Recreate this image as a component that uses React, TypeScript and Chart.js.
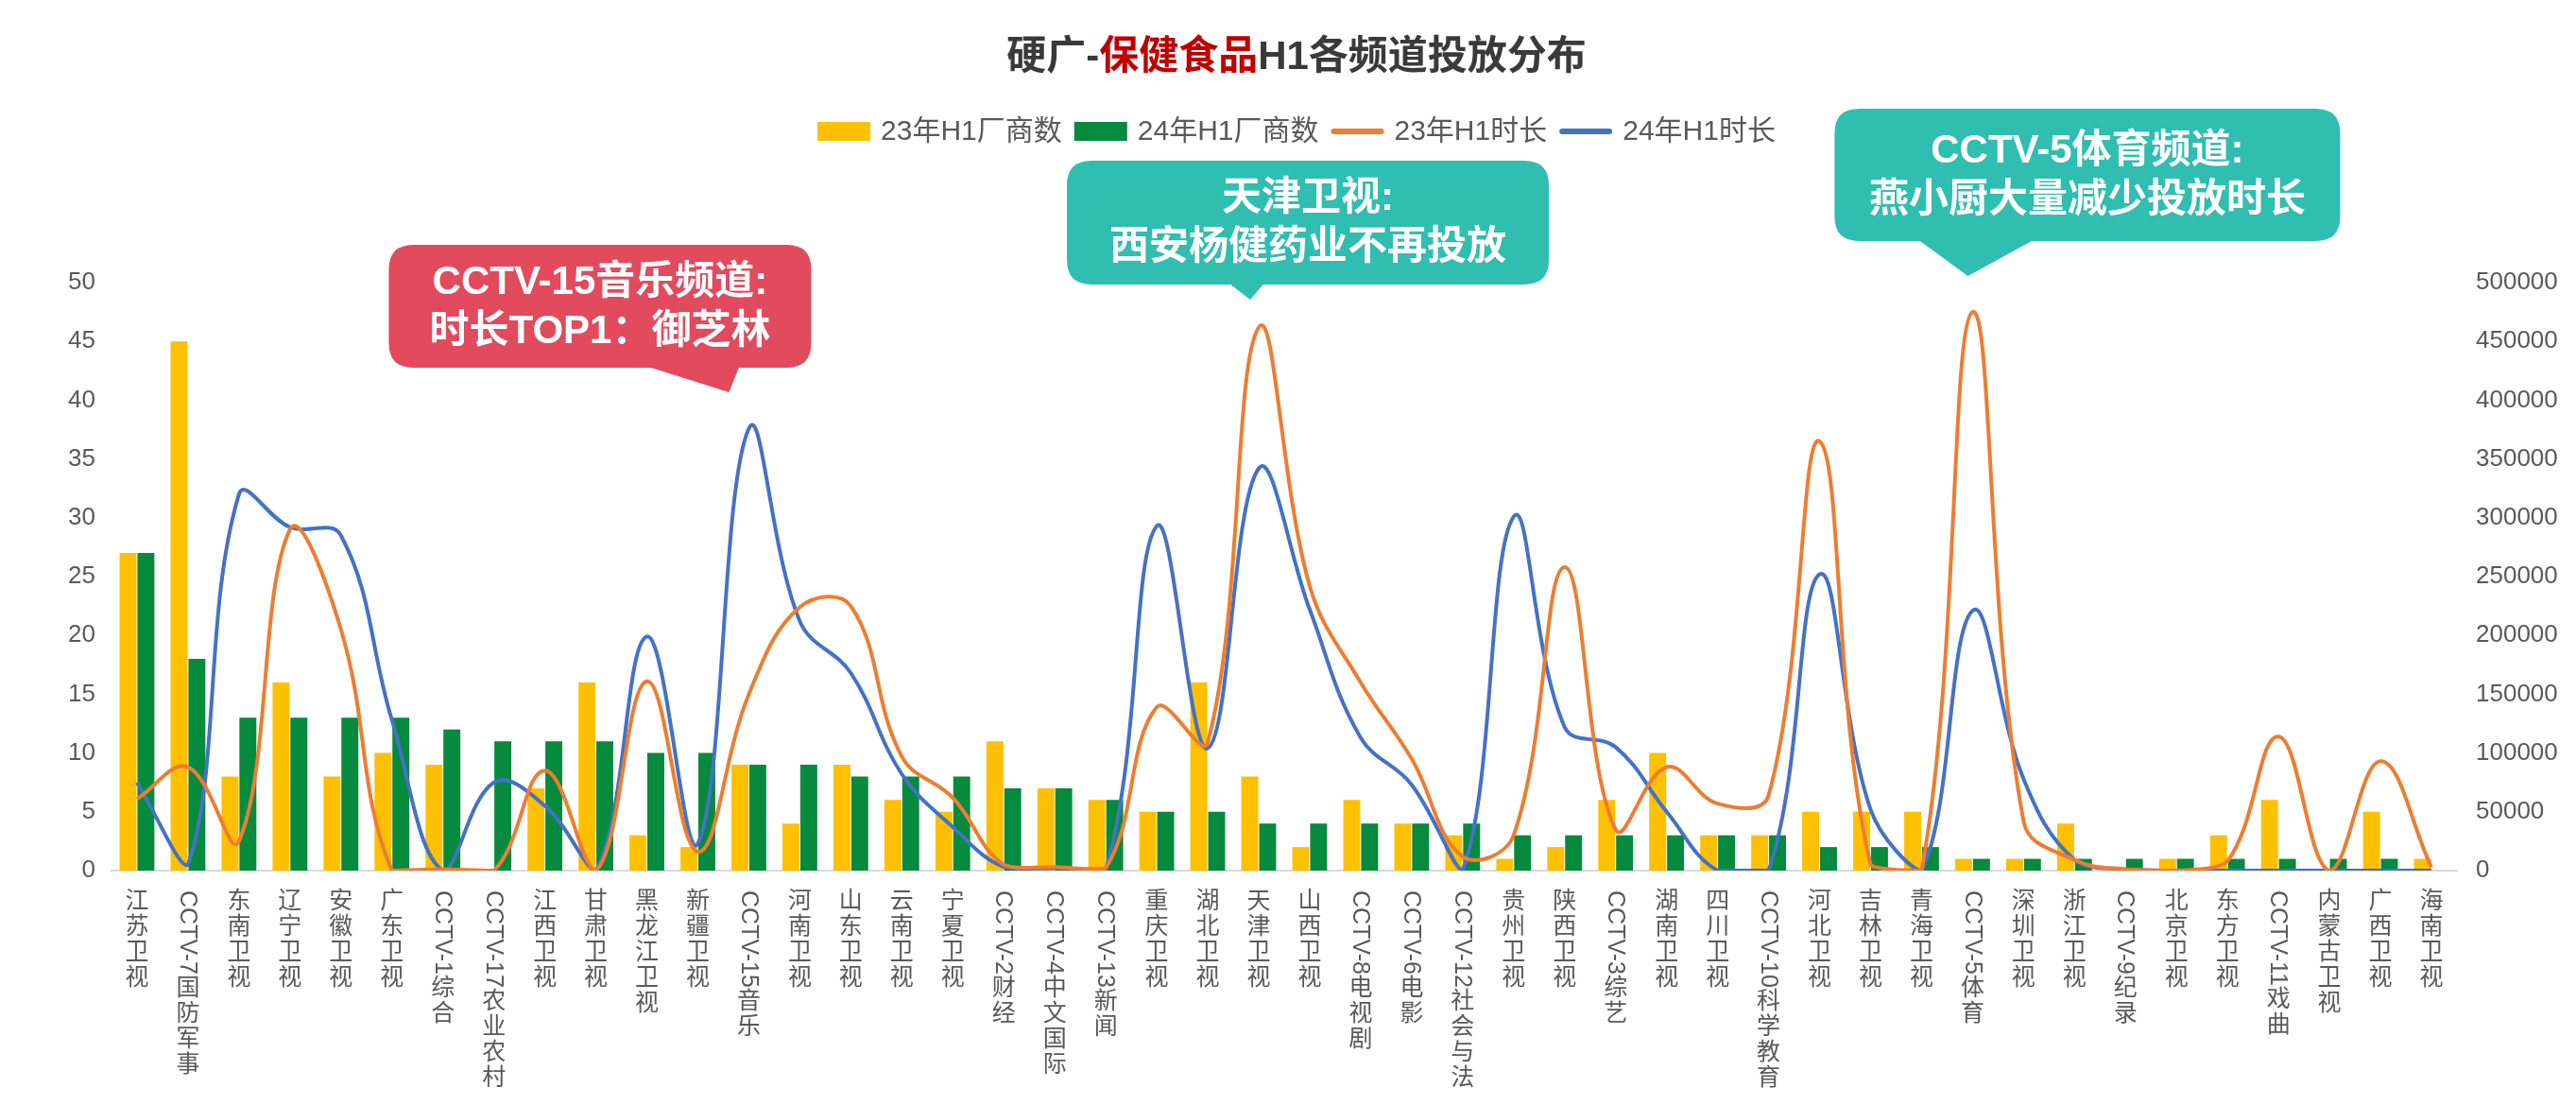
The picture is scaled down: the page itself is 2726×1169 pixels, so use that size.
import React, { useEffect, useRef } from "react";
import { Chart, registerables } from "chart.js";

Chart.register(...registerables);

// ---------------- data ----------------
const categories = [
  "江苏卫视", "CCTV-7国防军事", "东南卫视", "辽宁卫视", "安徽卫视", "广东卫视", "CCTV-1综合", "CCTV-17农业农村",
  "江西卫视", "甘肃卫视", "黑龙江卫视", "新疆卫视", "CCTV-15音乐", "河南卫视", "山东卫视", "云南卫视", "宁夏卫视",
  "CCTV-2财经", "CCTV-4中文国际", "CCTV-13新闻", "重庆卫视", "湖北卫视", "天津卫视", "山西卫视", "CCTV-8电视剧",
  "CCTV-6电影", "CCTV-12社会与法", "贵州卫视", "陕西卫视", "CCTV-3综艺", "湖南卫视", "四川卫视", "CCTV-10科学教育",
  "河北卫视", "吉林卫视", "青海卫视", "CCTV-5体育", "深圳卫视", "浙江卫视", "CCTV-9纪录", "北京卫视", "东方卫视",
  "CCTV-11戏曲", "内蒙古卫视", "广西卫视", "海南卫视",
];

const makers23 = [27, 45, 8, 16, 8, 10, 9, 0, 7, 16, 3, 2, 9, 4, 9, 6, 5, 11, 7, 6, 5, 16, 8, 2, 6, 4, 3, 1, 2, 6, 10, 3, 3, 5, 5, 5, 1, 1, 4, 0, 1, 3, 6, 0, 5, 1];
const makers24 = [27, 18, 13, 13, 13, 13, 12, 11, 11, 11, 10, 10, 9, 9, 8, 8, 8, 7, 7, 6, 5, 5, 4, 4, 4, 4, 4, 3, 3, 3, 3, 3, 3, 2, 2, 2, 1, 1, 1, 1, 1, 1, 1, 1, 1, 0];

const duration23 = [
  61000, 88000, 25000, 290000, 205000, 0, 1000, 0, 85000, 0,
  161000, 16000, 150000, 224000, 225000, 97000, 62000, 5000, 3000, 2000,
  139000, 109000, 462000, 242000, 160000, 95000, 12000, 30000, 258000, 35000,
  88000, 57000, 64000, 365000, 5000, 0, 475000, 42000, 9000, 1000,
  0, 8000, 114000, 0, 93000, 3000,
];
const duration24 = [
  75000, 5000, 320000, 292000, 285000, 128000, 0, 75000, 55000, 0,
  199000, 23000, 376000, 212000, 168000, 82000, 37000, 3000, 2000, 1000,
  293000, 104000, 342000, 222000, 113000, 73000, 0, 301000, 122000, 105000,
  50000, 0, 0, 252000, 52000, 0, 221000, 78000, 9000, 1000,
  0, 0, 0, 0, 0, 0,
];

const seriesNames = ["23年H1厂商数", "24年H1厂商数", "23年H1时长", "24年H1时长"];
const leftAxis = { min: 0, max: 50, step: 5 };
const rightAxis = { min: 0, max: 500000, step: 50000 };

const titleParts = [
  { text: "硬广-", color: "#3A3A3A" },
  { text: "保健食品", color: "#C00000" },
  { text: "H1各频道投放分布", color: "#3A3A3A" },
];

const callouts = [
  { lines: ["CCTV-15音乐频道:", "时长TOP1：御芝林"], color: "#E24A5E", target: "CCTV-15音乐" },
  { lines: ["天津卫视:", "西安杨健药业不再投放"], color: "#2FBEB0", target: "天津卫视" },
  { lines: ["CCTV-5体育频道:", "燕小厨大量减少投放时长"], color: "#2FBEB0", target: "CCTV-5体育" },
];

// ---------------- styling / layout ----------------
const W = 2710;
const H = 1153;
const COLORS = ["#FFC000", "#068A3E", "#ED7D31", "#4472C4"];
const FONT = '"Liberation Sans", "Noto Sans CJK SC", sans-serif';
const TEXT_GRAY = "#595959";

// bubble geometry relative to target category pixel (dx) and absolute y
const calloutBoxes = [
  { dx0: -381, dx1: 66, top: 251, bottom: 381, tipDx: -21, tipY: 407, baseDx0: -116, baseDx1: -9 },
  { dx0: -203, dx1: 307, top: 162, bottom: 293, tipDx: -9, tipY: 309, baseDx0: -35, baseDx1: 8 },
  { dx0: -146, dx1: 389, top: 107, bottom: 247, tipDx: -5, tipY: 284, baseDx0: -61, baseDx1: 70 },
];

function isCJK(ch: string) {
  return /[\u2E80-\uFFFF]/.test(ch);
}

function drawVerticalLabel(ctx: CanvasRenderingContext2D, text: string, x: number, y0: number, advance: number) {
  let y = y0;
  let run = "";
  const flush = () => {
    if (!run) return;
    const w = ctx.measureText(run).width;
    ctx.save();
    ctx.translate(x, y);
    ctx.rotate(Math.PI / 2);
    ctx.textAlign = "left";
    ctx.textBaseline = "middle";
    ctx.fillText(run, 0, 1);
    ctx.restore();
    y += w + 3;
    run = "";
  };
  for (const ch of Array.from(text)) {
    if (isCJK(ch)) {
      flush();
      ctx.textAlign = "center";
      ctx.textBaseline = "top";
      ctx.fillText(ch, x, y);
      y += advance;
    } else {
      run += ch;
    }
  }
  flush();
}

function roundRectPath(ctx: CanvasRenderingContext2D, x0: number, y0: number, x1: number, y1: number, r: number) {
  ctx.beginPath();
  ctx.moveTo(x0 + r, y0);
  ctx.lineTo(x1 - r, y0);
  ctx.quadraticCurveTo(x1, y0, x1, y0 + r);
  ctx.lineTo(x1, y1 - r);
  ctx.quadraticCurveTo(x1, y1, x1 - r, y1);
  ctx.lineTo(x0 + r, y1);
  ctx.quadraticCurveTo(x0, y1, x0, y1 - r);
  ctx.lineTo(x0, y0 + r);
  ctx.quadraticCurveTo(x0, y0, x0 + r, y0);
  ctx.closePath();
}

const decorPlugin = {
  id: "decor",
  afterDraw(chart: any) {
    const ctx: CanvasRenderingContext2D = chart.ctx;
    const area = chart.chartArea;
    const xScale = chart.scales.x;
    ctx.save();

    // ---- title ----
    ctx.font = `bold 42px ${FONT}`;
    ctx.textBaseline = "middle";
    ctx.textAlign = "left";
    const tw = titleParts.reduce((s, p) => s + ctx.measureText(p.text).width, 0);
    let tx = 1364 - tw / 2;
    for (const p of titleParts) {
      ctx.fillStyle = p.color;
      ctx.fillText(p.text, tx, 53);
      tx += ctx.measureText(p.text).width;
    }

    // ---- legend ----
    ctx.font = `30px ${FONT}`;
    const markerW = 56;
    const gapText = 11;
    const gapItem = 13;
    const ds = chart.data.datasets;
    const items = ds.map((d: any) => ({ label: d.label, color: d.type === "line" ? d.borderColor : d.backgroundColor, line: d.type === "line" }));
    const total = items.reduce((s: number, it: any) => s + markerW + gapText + ctx.measureText(it.label).width, 0) + gapItem * (items.length - 1);
    let lx = 1364 - total / 2;
    const ly = 131;
    for (const it of items) {
      if (it.line) {
        ctx.strokeStyle = it.color;
        ctx.lineWidth = 6;
        ctx.lineCap = "round";
        ctx.beginPath();
        ctx.moveTo(lx + 3, ly);
        ctx.lineTo(lx + markerW - 3, ly);
        ctx.stroke();
      } else {
        ctx.fillStyle = it.color;
        ctx.fillRect(lx, ly - 10, markerW, 20);
      }
      lx += markerW + gapText;
      ctx.fillStyle = TEXT_GRAY;
      ctx.textAlign = "left";
      ctx.textBaseline = "middle";
      ctx.fillText(it.label, lx, ly + 1);
      lx += ctx.measureText(it.label).width + gapItem;
    }

    // ---- x labels (vertical, stacked) ----
    ctx.font = `25px ${FONT}`;
    ctx.fillStyle = TEXT_GRAY;
    categories.forEach((c, i) => {
      const x = xScale.getPixelForValue(i);
      drawVerticalLabel(ctx, c, x, area.bottom + 21, 27);
    });

    // ---- callouts ----
    callouts.forEach((co, k) => {
      const g = calloutBoxes[k];
      const idx = categories.indexOf(co.target);
      const cx = xScale.getPixelForValue(idx);
      const x0 = cx + g.dx0;
      const x1 = cx + g.dx1;
      ctx.fillStyle = co.color;
      roundRectPath(ctx, x0, g.top, x1, g.bottom, 26);
      ctx.fill();
      ctx.beginPath();
      ctx.moveTo(cx + g.baseDx0, g.bottom - 4);
      ctx.lineTo(cx + g.baseDx1, g.bottom - 4);
      ctx.lineTo(cx + g.tipDx, g.tipY);
      ctx.closePath();
      ctx.fill();
      ctx.fillStyle = "#FFFFFF";
      ctx.font = `bold 42px ${FONT}`;
      ctx.textAlign = "center";
      ctx.textBaseline = "middle";
      const mid = (g.top + g.bottom) / 2;
      const gap = 52;
      co.lines.forEach((ln, j) => {
        const y = mid + (j - (co.lines.length - 1) / 2) * gap;
        ctx.fillText(ln, (x0 + x1) / 2, y + 1);
      });
    });

    ctx.restore();
  },
};

export default function App() {
  const canvasRef = useRef<HTMLCanvasElement | null>(null);

  useEffect(() => {
    const canvas = canvasRef.current;
    if (!canvas) return;
    const tickFont = { family: FONT, size: 26 };
    const chart = new Chart(canvas, {
      type: "bar",
      data: {
        labels: categories,
        datasets: [
          {
            type: "bar",
            label: seriesNames[0],
            data: makers23,
            backgroundColor: COLORS[0],
            yAxisID: "y",
            order: 1,
            categoryPercentage: 0.7,
            barPercentage: 0.95,
          },
          {
            type: "bar",
            label: seriesNames[1],
            data: makers24,
            backgroundColor: COLORS[1],
            yAxisID: "y",
            order: 1,
            categoryPercentage: 0.7,
            barPercentage: 0.95,
          },
          {
            type: "line",
            label: seriesNames[2],
            data: duration23,
            borderColor: COLORS[2],
            backgroundColor: COLORS[2],
            borderWidth: 4,
            pointRadius: 0,
            tension: 0.4,
            fill: false,
            yAxisID: "y1",
            order: 0,
          },
          {
            type: "line",
            label: seriesNames[3],
            data: duration24,
            borderColor: COLORS[3],
            backgroundColor: COLORS[3],
            borderWidth: 4,
            pointRadius: 0,
            tension: 0.4,
            fill: false,
            yAxisID: "y1",
            order: 0,
          },
        ] as any,
      },
      options: {
        responsive: false,
        animation: false,
        devicePixelRatio: 1,
        layout: { padding: { top: 291, left: 0, right: 0, bottom: 0 } },
        plugins: {
          legend: { display: false },
          title: { display: false },
          tooltip: { enabled: false },
        },
        scales: {
          x: {
            type: "category",
            offset: true,
            grid: { display: false, drawTicks: false },
            border: { display: true, color: "#D9D9D9", width: 2 },
            ticks: { display: false },
            afterFit: (s: any) => {
              s.height = 240;
            },
          },
          y: {
            position: "left",
            min: leftAxis.min,
            max: leftAxis.max,
            ticks: {
              stepSize: leftAxis.step,
              padding: 17,
              color: TEXT_GRAY,
              font: tickFont,
              callback: (v: any) => String(v),
            },
            grid: { display: false, drawTicks: false },
            border: { display: false },
            afterFit: (s: any) => {
              s.width = 110;
            },
          },
          y1: {
            position: "right",
            min: rightAxis.min,
            max: rightAxis.max,
            ticks: {
              stepSize: rightAxis.step,
              padding: 20,
              color: TEXT_GRAY,
              font: tickFont,
              callback: (v: any) => String(v),
            },
            grid: { display: false, drawTicks: false },
            border: { display: false },
            afterFit: (s: any) => {
              s.width = 118;
            },
          },
        },
      } as any,
      plugins: [decorPlugin],
    });
    return () => chart.destroy();
  }, []);

  return (
    <div style={{ width: W, height: H, position: "relative", background: "#FFFFFF", boxShadow: "0 0 0 2px #F2F2F2" }}>
      <canvas ref={canvasRef} width={W} height={H} style={{ width: W, height: H, display: "block" }} />
    </div>
  );
}
